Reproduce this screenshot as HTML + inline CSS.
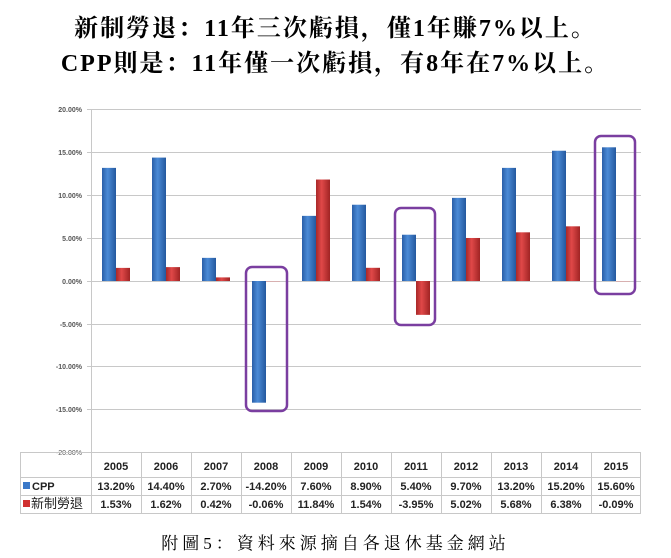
<!DOCTYPE html>
<html><head><meta charset="utf-8"><style>
html,body{margin:0;padding:0;background:#fff;}
body{width:671px;height:558px;overflow:hidden;position:relative;}
.t{position:absolute;left:0;width:671px;text-align:center;font-family:"Liberation Serif","Noto Serif CJK SC",serif;font-weight:bold;color:#000;white-space:nowrap;}
</style></head><body>
<div class="t" style="top:8px;font-size:24px;letter-spacing:2px;">新制勞退：11年三次虧損，僅1年賺7%以上。</div>
<div class="t" style="top:43px;font-size:24px;letter-spacing:2px;">CPP則是：11年僅一次虧損，有8年在7%以上。</div>
<svg width="671" height="558" style="position:absolute;left:0;top:0" xmlns="http://www.w3.org/2000/svg">
<defs>
<linearGradient id="b" x1="0" x2="1"><stop offset="0" stop-color="#2a5ea8"/><stop offset="0.4" stop-color="#4a8ad6"/><stop offset="1" stop-color="#24589e"/></linearGradient>
<linearGradient id="r" x1="0" x2="1"><stop offset="0" stop-color="#a82828"/><stop offset="0.4" stop-color="#e04848"/><stop offset="1" stop-color="#a02424"/></linearGradient>
</defs>
<g stroke="#c8c8c8" stroke-width="1">
<line x1="87" x2="641" y1="109.5" y2="109.5"/><line x1="87" x2="641" y1="152.5" y2="152.5"/><line x1="87" x2="641" y1="195.5" y2="195.5"/><line x1="87" x2="641" y1="238.5" y2="238.5"/><line x1="87" x2="641" y1="281.5" y2="281.5"/><line x1="87" x2="641" y1="324.5" y2="324.5"/><line x1="87" x2="641" y1="366.5" y2="366.5"/><line x1="87" x2="641" y1="409.5" y2="409.5"/><line x1="87" x2="91" y1="452.5" y2="452.5"/>
<line x1="91.5" x2="91.5" y1="109" y2="452"/>
</g>
<g font-family="Liberation Sans,sans-serif" font-size="7" font-weight="bold" fill="#555" text-anchor="end">
<text x="82" y="112">20.00%</text><text x="82" y="155">15.00%</text><text x="82" y="198">10.00%</text><text x="82" y="241">5.00%</text><text x="82" y="284">0.00%</text><text x="82" y="327">-5.00%</text><text x="82" y="369">-10.00%</text><text x="82" y="412">-15.00%</text><text x="82" y="455" font-weight="normal">-20.00%</text>
</g>
<g id="bars"></g>
<g fill="none" stroke="#7a3ea0" stroke-width="2.5">
<rect x="246" y="267" width="41" height="144" rx="6"/>
<rect x="395" y="208" width="40" height="117" rx="6"/>
<rect x="595" y="136" width="40" height="158" rx="6"/>
</g>
<g stroke="#c8c8c8" stroke-width="1" fill="none">
<rect x="20.5" y="452.5" width="620" height="61"/>
<line x1="20" x2="641" y1="477.5" y2="477.5"/><line x1="20" x2="641" y1="495.5" y2="495.5"/>
<line x1="91.5" x2="91.5" y1="452" y2="514"/>
</g>
<g id="cols" stroke="#c8c8c8"></g>
<g id="txt" font-family="Liberation Sans,sans-serif" font-size="11" font-weight="bold" fill="#222" text-anchor="middle"></g>
<rect x="23" y="482" width="7" height="7" fill="#3a78c8"/>
<rect x="23" y="500" width="7" height="7" fill="#d03030"/>
<text x="32" y="490" font-family="Liberation Sans,sans-serif" font-size="11" font-weight="bold" fill="#222">CPP</text>
<text x="31" y="508" font-family="Liberation Sans,'Noto Sans CJK TC',sans-serif" font-size="13" fill="#222">新制勞退</text>
</svg>
<div class="t" style="top:529px;font-size:17px;font-weight:normal;letter-spacing:4px;">附圖5：資料來源摘自各退休基金網站</div>
<script>
var yrs=[2005,2006,2007,2008,2009,2010,2011,2012,2013,2014,2015];
var c=[13.2,14.4,2.7,-14.2,7.6,8.9,5.4,9.7,13.2,15.2,15.6];
var l=[1.53,1.62,0.42,-0.06,11.84,1.54,-3.95,5.02,5.68,6.38,-0.09];
var ns="http://www.w3.org/2000/svg";
function y(v){return 281-8.57*v;}
function rect(g,x,v,f){var r=document.createElementNS(ns,"rect");var a=y(v),b=y(0);r.setAttribute("x",x);r.setAttribute("y",Math.min(a,b));r.setAttribute("width",14);r.setAttribute("height",Math.max(1,Math.abs(a-b)));r.setAttribute("fill",f);g.appendChild(r);}
function txt(g,x,yy,s){var t=document.createElementNS(ns,"text");t.setAttribute("x",x);t.setAttribute("y",yy);t.textContent=s;g.appendChild(t);}
var bg=document.getElementById("bars"),cg=document.getElementById("cols"),tg=document.getElementById("txt");
for(var i=0;i<11;i++){var cx=116+50*i;
rect(bg,cx-14,c[i],"url(#b)");rect(bg,cx,l[i],Math.abs(l[i])<0.2?"#d8b0b0":"url(#r)");
if(i>0){var ln=document.createElementNS(ns,"line");ln.setAttribute("x1",91.5+50*i);ln.setAttribute("x2",91.5+50*i);ln.setAttribute("y1",452);ln.setAttribute("y2",514);cg.appendChild(ln);}
txt(tg,cx,470,yrs[i]);txt(tg,cx,490,c[i].toFixed(2)+"%");txt(tg,cx,508,l[i].toFixed(2)+"%");}
</script>
</body></html>
